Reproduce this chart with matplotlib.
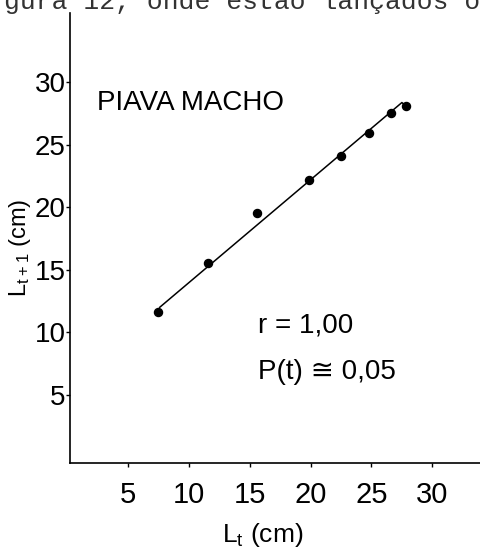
import matplotlib
matplotlib.use("Agg")
import matplotlib.pyplot as plt

plt.rcParams["font.family"] = ["Liberation Sans", "DejaVu Sans"]
plt.rcParams["mathtext.fontset"] = "custom"
plt.rcParams["mathtext.rm"] = "Liberation Sans"
plt.rcParams["mathtext.default"] = "regular"

# Ford-Walford plot: length at age t vs. length at age t+1
lt = [7.5, 11.6, 15.6, 19.9, 22.5, 24.8, 26.6, 27.8]
lt1 = [11.6, 15.5, 19.5, 22.2, 24.1, 25.9, 27.5, 28.1]

# hand-drawn fitted line (ends with a short hook to the last point)
fit_x = [7.6, 27.5, 27.8]
fit_y = [12.0, 28.35, 28.1]

xticks = [5, 10, 15, 20, 25, 30]
yticks = [5, 10, 15, 20, 25, 30]

fig = plt.figure(figsize=(4.81, 5.5), dpi=100)
ax = fig.add_axes([70 / 481, 87 / 550, 1 - 70 / 481, (463 - 13) / 550])

ax.plot(fit_x, fit_y, color="black", lw=1.1)
ax.plot(lt, lt1, "o", color="black", ms=5.8)

ax.set_xlim(0.23, 34.0)
ax.set_ylim(-0.43, 35.5)
ax.set_xticks(xticks)
ax.set_yticks(yticks)
ax.tick_params(axis="x", direction="out", length=3, width=1, labelsize=21, pad=10)
ax.tick_params(axis="y", direction="out", length=3, width=1, labelsize=20, pad=0)

for s in ["top", "right"]:
    ax.spines[s].set_visible(False)
for s in ["left", "bottom"]:
    ax.spines[s].set_linewidth(1.2)

# axis titles
fig.text(263 / 481, 1 - 535 / 550, r"$L_t$ (cm)", fontsize=19,
         ha="center", va="center")
fig.text(20 / 481, 1 - 248 / 550, r"$L_{t+1}$ (cm)", fontsize=17,
         ha="center", va="center", rotation=90)

# annotations inside the plot
fig.text(97 / 481, 1 - 103 / 550, "PIAVA MACHO", fontsize=20,
         ha="left", va="center")
fig.text(258 / 481, 1 - 325 / 550, "r = 1,00", fontsize=20,
         ha="left", va="center")
fig.text(258 / 481, 1 - 372 / 550, "P(t) \u2245 0,05", fontsize=20,
         ha="left", va="center")

# running text of the page above the figure
fig.text(4 / 481, 1 - 9 / 550, "gura 12, onde estão lançados o",
         fontsize=19, family="Liberation Mono", color="#333333",
         ha="left", va="baseline")

fig.savefig("out.png", dpi=100)
